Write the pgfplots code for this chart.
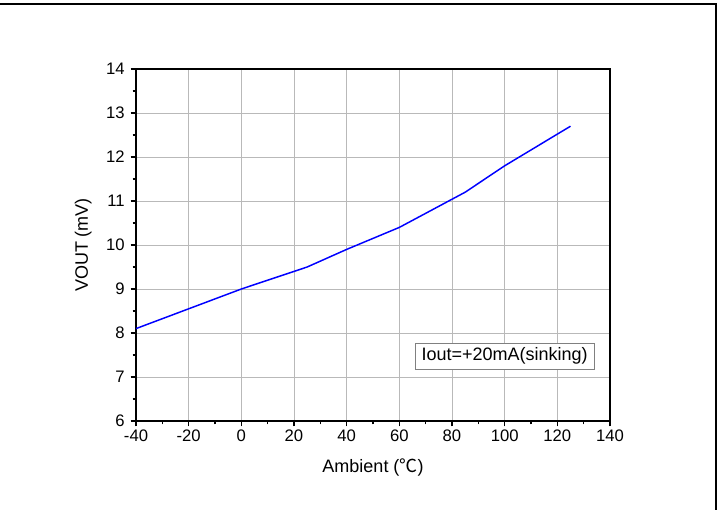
\documentclass[border=0pt]{standalone}
\usepackage{pgfplots}
\pgfplotsset{compat=1.18}
\usepackage{fontspec}
\setmainfont{Liberation Sans}
\newfontfamily\cjk{Noto Sans CJK SC}

\begin{document}
\begin{tikzpicture}
% page frame: only top and right edges are visible in the reference
\path[use as bounding box] (-102pt,-66.75pt) rectangle (436.5pt,315.75pt);
\draw[line width=1.6pt] (-102pt,312.8pt) -- (435pt,312.8pt) -- (435pt,-66.75pt);
\begin{axis}[%
    scale only axis,
    width=355.5pt, height=264pt,
    xmin=-40, xmax=140,
    ymin=6, ymax=14,
    xtick={-40,-20,...,140},
    ytick={6,7,...,14},
    minor x tick num=1,
    minor y tick num=1,
    tick align=outside,
    xtick pos=left, ytick pos=left,
    major tick length=4pt,
    minor tick length=2.5pt,
    every tick/.style={black, line width=0.9pt},
    axis line style={line width=1.1pt},
    grid=major,
    major grid style={gray!55, line width=0.6pt},
    tick label style={font=\fontsize{12.5}{14}\selectfont},
    /pgf/number format/assume math mode=true,
    xticklabel style={yshift=1pt},
    yticklabel style={xshift=-1pt},
    xlabel={Ambient ({\cjk ℃})},
    ylabel={VOUT (mV)},
    label style={font=\fontsize{13.5}{15}\selectfont},
    xlabel style={yshift=-6pt},
    ylabel style={yshift=4pt},
    ]
\addplot[blue, line width=1.1pt] coordinates {
    (-40,8.1) (0,9.0) (25,9.5) (40,9.9) (60,10.4) (85,11.2) (100,11.8) (125,12.7)
};
\node[draw=gray, line width=0.6pt, fill=white, inner xsep=5pt, inner ysep=3.5pt,
      font=\fontsize{13.5}{15}\selectfont] at (axis cs:100,7.47) {Iout=+20mA(sinking)};
\end{axis}
\end{tikzpicture}
\end{document}
